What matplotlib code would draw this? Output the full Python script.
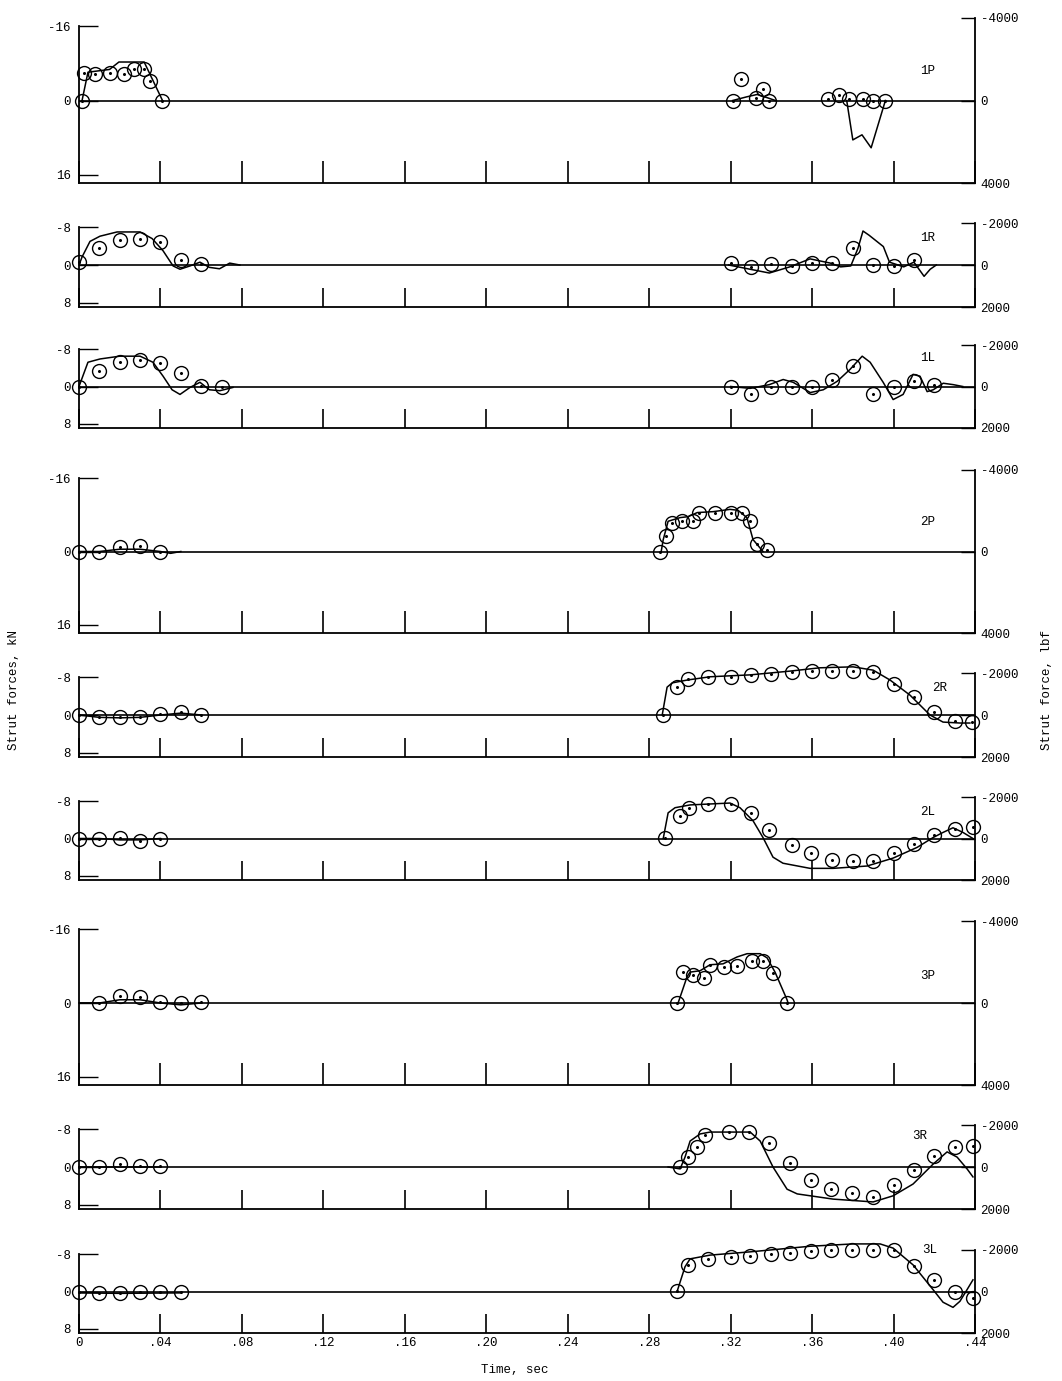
import numpy as np
import matplotlib
matplotlib.use("Agg")
import matplotlib.pyplot as plt

plt.rcParams["font.family"] = ["Liberation Mono", "DejaVu Sans Mono"]
nan = float("nan")

KN_PER_LBF = 0.0044482

# ---- data: time (s) and strut force (kN); computed = line, measured = circles
p1P_line_t = [0.0015, 0.0044, 0.015, 0.0196, 0.032, 0.041, nan, 0.321, 0.328, 0.333, 0.338, 0.342, nan,
              0.377, 0.380, 0.3845, 0.389, 0.396]
p1P_line_f = [0, -6.1, -6.7, -8.3, -8.3, 0, nan, 0, -0.8, -1.3, -0.6, 0, nan,
              0, 8.5, 7.4, 10.2, 0]
p1P_pts_t = [0.0015, 0.0025, 0.008, 0.015, 0.022, 0.027, 0.032, 0.035, 0.041,
             0.321, 0.325, 0.3325, 0.336, 0.339, 0.368, 0.373, 0.378, 0.385, 0.390, 0.396]
p1P_pts_f = [0, -5.9, -5.7, -5.9, -5.7, -6.7, -6.9, -4.1, 0,
             0, -4.6, -0.6, -2.4, 0, -0.4, -1.1, -0.4, -0.4, 0, 0]

p1R_line_t = [0.0, 0.0015, 0.0054, 0.0103, 0.0187, 0.030, 0.0359, 0.0413, 0.0462, 0.0496, 0.0545,
              0.0594, 0.064, 0.069, 0.074, 0.079, nan,
              0.319, 0.3296, 0.339, 0.349, 0.359, 0.369, 0.374, 0.379, 0.3825, 0.385, 0.388,
              0.395, 0.398, 0.405, 0.410, 0.415, 0.418, 0.421]
p1R_line_f = [0, -1.7, -5.0, -6.1, -7.0, -7.0, -5.6, -3.0, 0.2, 0.9, 0.2,
              -0.6, 0.5, 0.8, -0.4, 0, nan,
              0, 0.9, 1.7, 0.4, -1.3, -0.4, 0.4, 0.2, -3.5, -7.2, -6.3,
              -3.9, -0.6, 0.4, -0.6, 2.4, 0.9, 0]
p1R_pts_t = [0.0, 0.01, 0.02, 0.03, 0.04, 0.05, 0.06,
             0.32, 0.33, 0.34, 0.35, 0.36, 0.37, 0.38, 0.39, 0.40, 0.41]
p1R_pts_f = [-0.6, -3.5, -5.4, -5.6, -4.8, -1.1, -0.2,
             -0.4, 0.4, -0.2, 0.2, -0.4, -0.4, -3.7, 0, 0.2, -1.1]

p1L_line_t = [0.0, 0.0044, 0.0103, 0.020, 0.030, 0.0363, 0.0413, 0.0457, 0.0496, 0.0545, 0.0594,
              0.064, 0.0692, 0.0756, nan,
              0.32, 0.3296, 0.339, 0.3458, 0.3507, 0.3591, 0.3655, 0.3723, 0.3787, 0.3846, 0.3885,
              0.3949, 0.3998, 0.4047, 0.4096, 0.413, 0.4165, 0.4195, 0.4244, 0.4293, 0.434]
p1L_line_f = [0, -5.2, -5.9, -6.5, -6.5, -5.2, -2.2, 0.7, 1.7, 0.2, -0.9,
              0.7, 0.9, 0.2, nan,
              0, 0.4, -0.4, -1.5, -0.9, 1.3, 0.7, -1.1, -3.7, -6.5, -5.2,
              -0.9, 2.8, 1.7, -2.6, -2.2, 1.1, 0.7, -0.7, -0.4, 0]
p1L_pts_t = [0.0, 0.01, 0.02, 0.03, 0.04, 0.05, 0.06, 0.07,
             0.32, 0.33, 0.34, 0.35, 0.36, 0.37, 0.38, 0.39, 0.40, 0.41, 0.42]
p1L_pts_f = [0.2, -3.3, -5.2, -5.7, -5.0, -3.0, -0.2, 0.2,
             0, 1.7, 0.2, 0, 0, -1.5, -4.3, 1.7, 0, -1.1, -0.4]

p2P_line_t = [0.0, 0.01, 0.02, 0.03, 0.04, 0.045, 0.05, nan,
              0.2859, 0.2869, 0.2893, 0.2952, 0.2991, 0.3036, 0.3114, 0.3197, 0.3236, 0.328,
              0.3310, 0.3359]
p2P_line_f = [0, 0, -0.5, -0.5, 0, 0.4, 0, nan,
              0, -2.6, -6.6, -7.4, -7.6, -8.5, -8.7, -9.2, -9.0, -7.4, -2.6, 0]
p2P_pts_t = [0.0, 0.01, 0.02, 0.03, 0.04,
             0.2854, 0.2883, 0.2913, 0.2962, 0.3016, 0.3045, 0.3124, 0.32, 0.3256, 0.3296, 0.333, 0.338]
p2P_pts_f = [0, 0, -0.9, -1.1, 0,
             0, -3.3, -6.3, -6.6, -6.6, -8.5, -8.3, -8.3, -8.3, -6.6, -1.7, -0.4]

p2R_line_t = [0.0, 0.01, 0.02, 0.03, 0.04, 0.05, 0.06, nan,
              0.2864, 0.2888, 0.2913, 0.2986, 0.3099, 0.3296, 0.3492, 0.3639, 0.3801, 0.39,
              0.3983, 0.4081, 0.4179, 0.4243, 0.4326, 0.4375]
p2R_line_f = [0, 0.5, 0.6, 0.5, 0, -0.4, 0, nan,
              0, -5.9, -6.8, -7.4, -8.1, -8.5, -9.3, -10.0, -10.2, -9.5,
              -7.4, -4.2, 0, 1.5, 1.7, 1.7]
p2R_pts_t = [0.0, 0.01, 0.02, 0.03, 0.04, 0.05, 0.06,
             0.287, 0.2936, 0.299, 0.309, 0.32, 0.33, 0.34, 0.35, 0.36, 0.37, 0.38, 0.39,
             0.40, 0.41, 0.42, 0.43, 0.4386]
p2R_pts_f = [0, 0.4, 0.4, 0.4, -0.2, -0.6, 0,
             0, -5.9, -7.6, -8.1, -8.1, -8.5, -8.7, -9.1, -9.3, -9.3, -9.3, -9.1,
             -6.6, -3.8, -0.6, 1.3, 1.5]

p2L_line_t = [0.0, 0.01, 0.02, 0.03, 0.04, nan,
              0.2869, 0.2893, 0.2927, 0.3001, 0.3099, 0.3197, 0.3246, 0.331, 0.3359, 0.3408,
              0.3457, 0.3590, 0.3703, 0.3870, 0.3998, 0.4116, 0.4194, 0.4243, 0.4292, 0.4341, 0.4390]
p2L_line_f = [0, 0, 0.3, 0.3, 0, nan,
              0, -5.5, -6.6, -7.2, -7.4, -7.6, -6.6, -3.8, -0.2, 4.0,
              5.3, 6.4, 6.4, 5.9, 4.2, 1.9, -0.2, -1.3, -2.3, -1.3, 0]
p2L_pts_t = [0.0, 0.01, 0.02, 0.03, 0.04,
             0.2878, 0.295, 0.2996, 0.309, 0.32, 0.33, 0.339, 0.35, 0.3595, 0.37, 0.38, 0.39,
             0.40, 0.41, 0.42, 0.43, 0.439]
p2L_pts_f = [0, 0, -0.2, 0.6, 0,
             -0.2, -4.9, -6.6, -7.4, -7.4, -5.5, -1.9, 1.5, 3.2, 4.7, 4.9, 4.9,
             3.2, 1.1, -0.8, -2.1, -2.5]

p3P_line_t = [0.0, 0.01, 0.02, 0.03, 0.04, 0.05, 0.06, nan,
              0.2942, 0.2986, 0.3001, 0.305, 0.3099, 0.3163, 0.3232, 0.3281, 0.3345, 0.3379,
              0.3418, 0.3477, 0.3482]
p3P_line_f = [0, 0, -0.7, -0.7, 0, 0.4, 0, nan,
              0, -5.7, -6.7, -7.0, -8.3, -8.5, -10.0, -10.7, -10.7, -9.8, -6.7, -0.7, 0]
p3P_pts_t = [0.01, 0.02, 0.03, 0.04, 0.05, 0.06,
             0.2937, 0.2966, 0.3016, 0.307, 0.31, 0.3168, 0.3232, 0.3305, 0.336, 0.341, 0.3477]
p3P_pts_f = [0, -1.5, -1.3, -0.2, 0, -0.2,
             0, -6.7, -6.1, -5.4, -8.3, -7.8, -8.0, -9.1, -9.1, -6.5, 0]

p3R_line_t = [0.0, 0.04, nan,
              0.2893, 0.2952, 0.2976, 0.3001, 0.305, 0.3099, 0.3296, 0.3345, 0.3408, 0.3477, 0.3527,
              0.3703, 0.39, 0.3998, 0.4096, 0.4194, 0.4263, 0.4312, 0.4361, 0.4390]
p3R_line_f = [0, 0, nan,
              0, 0.4, -2.1, -5.5, -7.0, -7.4, -7.4, -5.5, 0, 4.7, 5.7,
              6.8, 7.4, 6.1, 3.6, -0.6, -3.2, -2.1, 0.4, 2.1]
p3R_pts_t = [0.0, 0.01, 0.02, 0.03, 0.04,
             0.2952, 0.299, 0.3035, 0.3075, 0.319, 0.329, 0.339, 0.349, 0.3595, 0.3693, 0.3797,
             0.39, 0.40, 0.41, 0.42, 0.43, 0.439]
p3R_pts_f = [0, 0, -0.6, -0.2, -0.2,
             0, -2.1, -4.2, -6.8, -7.4, -7.4, -5.1, -0.8, 2.8, 4.7, 5.5,
             6.4, 3.8, 0.6, -2.3, -4.2, -4.4]

p3L_line_t = [0.0, 0.02, 0.05, nan,
              0.2937, 0.2976, 0.3001, 0.3099, 0.3296, 0.3492, 0.3590, 0.3801, 0.3934, 0.3998,
              0.4096, 0.4194, 0.4243, 0.4292, 0.4326, 0.4361, 0.4390]
p3L_line_f = [0.3, 0.4, 0.3, nan,
              0, -5.3, -7.0, -7.8, -8.5, -9.3, -9.7, -10.2, -10.2, -9.3,
              -5.7, -0.4, 2.3, 3.4, 2.1, -0.4, -2.5]
p3L_pts_t = [0.0, 0.01, 0.02, 0.03, 0.04, 0.05,
             0.2937, 0.299, 0.309, 0.32, 0.3296, 0.34, 0.349, 0.3595, 0.3693, 0.3797, 0.39,
             0.40, 0.41, 0.42, 0.43, 0.439]
p3L_pts_f = [0, 0.4, 0.4, 0.2, 0.2, 0,
             -0.2, -5.7, -6.9, -7.4, -7.6, -8.1, -8.3, -8.7, -8.9, -8.9, -8.9,
             -8.9, -5.5, -2.5, 0, 1.5]

panel_names = ["1P", "1R", "1L", "2P", "2R", "2L", "3P", "3R", "3L"]
panel_lbf = [4000, 2000, 2000, 4000, 2000, 2000, 4000, 2000, 2000]
panel_kn_ticks = [16, 8, 8, 16, 8, 8, 16, 8, 8]
time_ticks = [0, 0.04, 0.08, 0.12, 0.16, 0.20, 0.24, 0.28, 0.32, 0.36, 0.40, 0.44]
time_labels = ["0", ".04", ".08", ".12", ".16", ".20", ".24", ".28", ".32", ".36", ".40", ".44"]

lines = [(p1P_line_t, p1P_line_f), (p1R_line_t, p1R_line_f), (p1L_line_t, p1L_line_f),
         (p2P_line_t, p2P_line_f), (p2R_line_t, p2R_line_f), (p2L_line_t, p2L_line_f),
         (p3P_line_t, p3P_line_f), (p3R_line_t, p3R_line_f), (p3L_line_t, p3L_line_f)]
points = [(p1P_pts_t, p1P_pts_f), (p1R_pts_t, p1R_pts_f), (p1L_pts_t, p1L_pts_f),
          (p2P_pts_t, p2P_pts_f), (p2R_pts_t, p2R_pts_f), (p2L_pts_t, p2L_pts_f),
          (p3P_pts_t, p3P_pts_f), (p3R_pts_t, p3R_pts_f), (p3L_pts_t, p3L_pts_f)]

# panel boxes in pixels (top, bottom)
W, H = 1062, 1381
boxes = [(18, 183), (223, 307), (345, 428), (470, 633), (673, 757), (797, 880),
         (921, 1085), (1125, 1209), (1250, 1333)]
x0, x1 = 79, 975
label_pos = [(928, 71), (928, 238), (928, 358), (928, 522), (940, 688), (928, 812),
             (928, 976), (920, 1136), (930, 1250)]

fig = plt.figure(figsize=(W / 100, H / 100), dpi=100)
FS = 9

for i, name in enumerate(panel_names):
    top, bot = boxes[i]
    ax = fig.add_axes([x0 / W, 1 - bot / H, (x1 - x0) / W, (bot - top) / H])
    lim_kn = panel_lbf[i] * KN_PER_LBF
    ax.set_xlim(0, 0.44)
    ax.set_ylim(lim_kn, -lim_kn)
    ax.axhline(0, color="black", lw=1.2, zorder=1)

    t, f = lines[i]
    ax.plot(t, f, color="black", lw=1.1, clip_on=False, zorder=3)
    pt, pf = points[i]
    ax.plot(pt, pf, ls="none", marker="o", ms=10, mfc="none", mec="black", mew=1.0,
            clip_on=False, zorder=4)
    ax.plot(pt, pf, ls="none", marker="o", ms=1.2, color="black", clip_on=False, zorder=4)

    for s in ["top"]:
        ax.spines[s].set_visible(False)
    ax.spines["right"].set_visible(False)
    ax.spines["left"].set_bounds(-panel_kn_ticks[i], lim_kn)
    ax.spines["left"].set_linewidth(1.3)
    ax.spines["bottom"].set_linewidth(1.3)
    k = panel_kn_ticks[i]
    ax.set_yticks([-k, 0, k])
    ax.set_yticklabels([f"-{k}", "0", f"{k}"], fontsize=FS)
    ax.tick_params(axis="y", direction="in", length=14, width=1.0, pad=6)
    ax.set_xticks(time_ticks)
    ax.tick_params(axis="x", direction="in", length=16 if panel_lbf[i] == 4000 else 14, width=1.2)
    if i == len(panel_names) - 1:
        ax.set_xticklabels(time_labels, fontsize=FS)
        ax.tick_params(axis="x", pad=3)
    else:
        ax.set_xticklabels([])

    ax2 = ax.twinx()
    ax2.set_ylim(panel_lbf[i], -panel_lbf[i])
    L = panel_lbf[i]
    ax2.set_yticks([-L, 0, L])
    ax2.set_yticklabels([f"-{L}", "0", f"{L}"], fontsize=FS)
    ax2.tick_params(axis="y", direction="in", length=10, width=1.0, pad=4)
    for s in ["top", "left", "bottom"]:
        ax2.spines[s].set_visible(False)
    ax2.spines["right"].set_linewidth(1.3)

    lx, ly = label_pos[i]
    fig.text(lx / W, 1 - ly / H, name, fontsize=FS, ha="center", va="center")

fig.text(14 / W, 1 - 690 / H, "Strut forces, kN", rotation=90, fontsize=FS, ha="center", va="center")
fig.text(1047 / W, 1 - 690 / H, "Strut force, lbf", rotation=90, fontsize=FS, ha="center", va="center")
fig.text(515 / W, 1 - 1370 / H, "Time, sec", fontsize=FS, ha="center", va="center")

fig.savefig("out.png", dpi=100)
